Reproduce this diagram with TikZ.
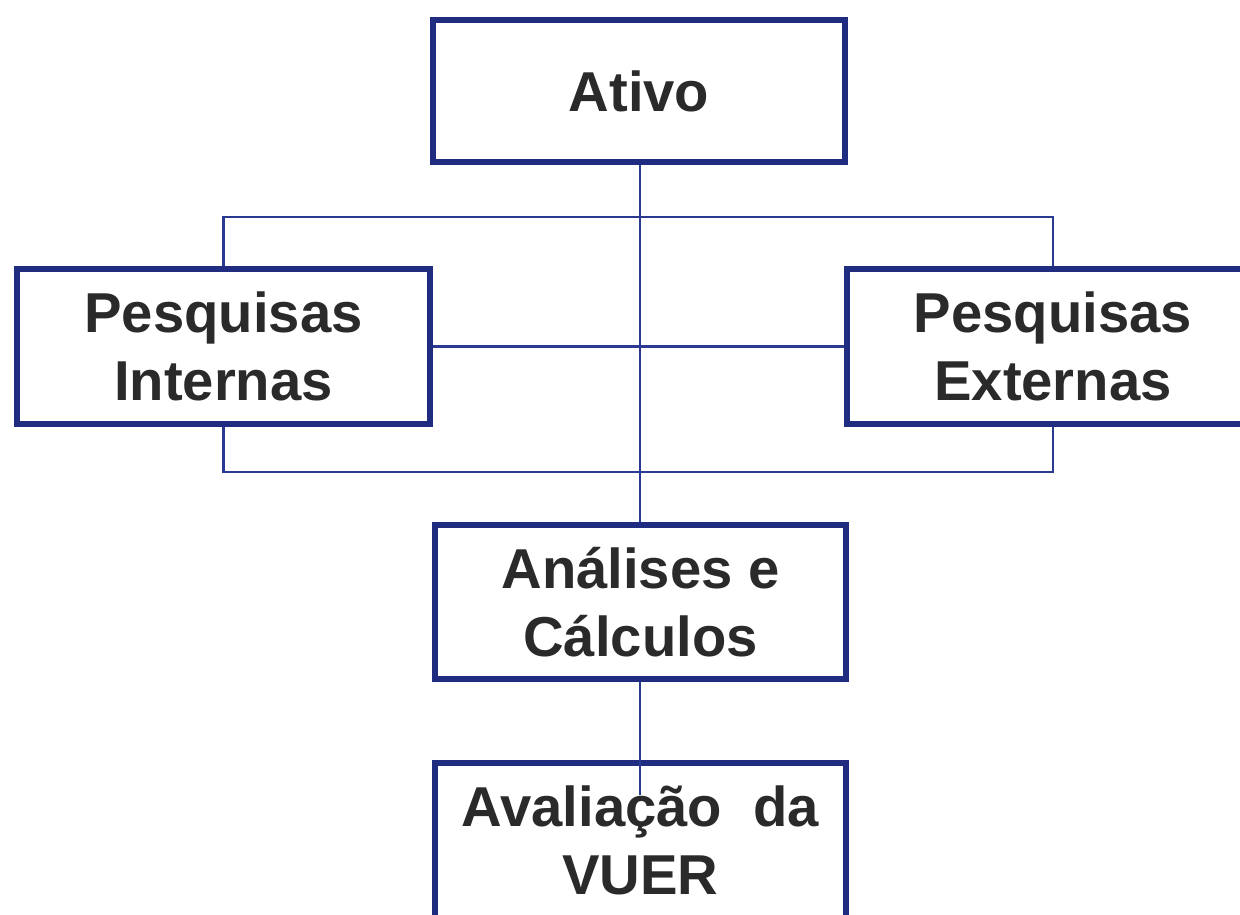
\documentclass[tikz,border=0pt]{standalone}
\usepackage{fontspec}
\setmainfont{Liberation Sans}
\definecolor{boxblue}{HTML}{1F2C80}
\definecolor{lineblue}{HTML}{2A3A90}
\definecolor{txt}{HTML}{2A2A2A}
\begin{document}
\begin{tikzpicture}[x=0.02cm,y=-0.02cm,
  stepbox/.style={draw=boxblue, line width=3.4pt, rectangle, align=center,
    text=txt, font=\fontsize{32}{39}\selectfont\bfseries, inner sep=0pt},
  conn/.style={draw=lineblue, line width=1.2pt}]
\useasboundingbox (0,0) rectangle (1240,914);
\clip (0,0) rectangle (1240,914);
\fill[white] (0,0) rectangle (1240,914);
\node[stepbox, minimum width=8.24cm, minimum height=2.84cm] (ativo) at (639,91) {Ativo};
\node[stepbox, minimum width=8.26cm, minimum height=3.10cm] (int) at (223.5,346.5) {Pesquisas\\Internas};
\node[stepbox, minimum width=8.26cm, minimum height=3.10cm] (ext) at (1053,346.5) {Pesquisas\\Externas};
\node[stepbox, minimum width=8.22cm, minimum height=3.08cm] (anal) at (640.5,602) {Análises e\\Cálculos};
\node[stepbox, minimum width=8.22cm, minimum height=3.10cm] (aval) at (640.5,840.5) {Avaliação\ \ da\\VUER};
\coordinate (spine) at (640,0);
\coordinate (top) at (0,217);
\coordinate (bot) at (0,472);
\coordinate (avalend) at (640,795);
\draw[conn] (ativo.south -| spine) -- (anal.north -| spine);
\draw[conn] (int.north) -- (int.north |- top) -- (ext.north |- top) -- (ext.north);
\draw[conn] (int.south) -- (int.south |- bot) -- (ext.south |- bot) -- (ext.south);
\draw[conn] (int.east) -- (ext.west);
\draw[conn] (anal.south -| spine) -- (avalend);
\end{tikzpicture}
\end{document}
